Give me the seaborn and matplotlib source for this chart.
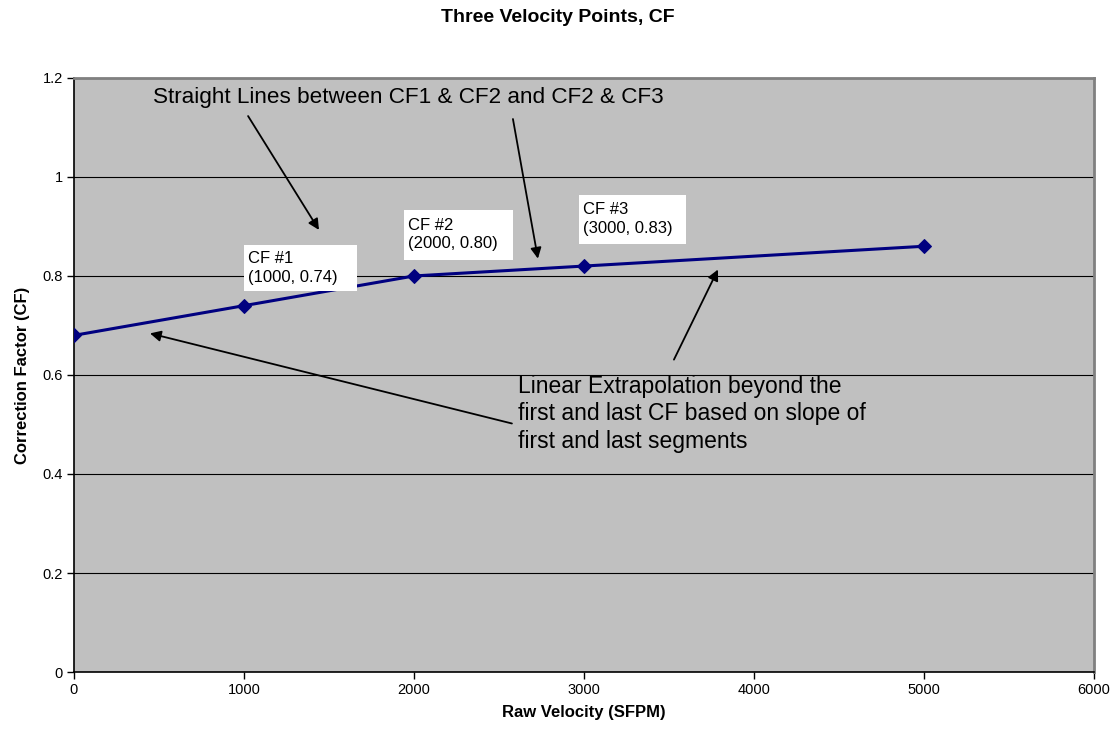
import pandas as pd
import seaborn as sns
import matplotlib.pyplot as plt
from matplotlib.patches import Rectangle

# data
velocity = [0, 1000, 2000, 3000, 5000]
corr_factor = [0.68, 0.74, 0.80, 0.82, 0.86]
x_ticks = [0, 1000, 2000, 3000, 4000, 5000, 6000]
y_ticks = [0, 0.2, 0.4, 0.6, 0.8, 1.0, 1.2]
y_tick_labels = ['0', '0.2', '0.4', '0.6', '0.8', '1', '1.2']
cf_labels = ['CF #1\n(1000, 0.74)', 'CF #2\n(2000, 0.80)', 'CF #3\n(3000, 0.83)']

df = pd.DataFrame({'Raw Velocity (SFPM)': velocity, 'Correction Factor (CF)': corr_factor})

sns.set_theme(style='ticks')
plt.rcParams['font.family'] = ['Liberation Sans', 'DejaVu Sans']
plt.rcParams['text.color'] = 'black'
plt.rcParams['axes.labelcolor'] = 'black'
plt.rcParams['xtick.color'] = 'black'
plt.rcParams['ytick.color'] = 'black'

fig = plt.figure(figsize=(11.16, 7.38), dpi=100)
ax = fig.add_axes([0.0663, 0.0894, 0.914, 0.805])
ax.set_facecolor('#C0C0C0')

sns.lineplot(data=df, x='Raw Velocity (SFPM)', y='Correction Factor (CF)', ax=ax,
             color='#000080', linewidth=2.2, marker='D', markersize=7,
             markeredgecolor='#000080', zorder=5)

ax.set_xlim(0, 6000)
ax.set_ylim(0, 1.2)
ax.set_xticks(x_ticks)
ax.set_yticks(y_ticks)
ax.set_yticklabels(y_tick_labels)
ax.tick_params(axis='both', direction='out', length=5, width=1,
               labelsize=10.5, pad=3)
ax.tick_params(axis='x', pad=3)

ax.yaxis.grid(True, color='black', linewidth=0.8)
ax.xaxis.grid(False)
ax.set_axisbelow(True)

for side in ['left', 'bottom']:
    ax.spines[side].set_color('black')
    ax.spines[side].set_linewidth(1.2)
for side in ['top', 'right']:
    ax.spines[side].set_visible(True)
    ax.spines[side].set_color('#808080')
    ax.spines[side].set_linewidth(2)

ax.set_xlabel('Raw Velocity (SFPM)', fontsize=12, fontweight='bold', labelpad=6)
ax.set_ylabel('Correction Factor (CF)', fontsize=12, fontweight='bold', labelpad=9)
fig.text(0.5, 1 - 18 / 738, 'Three Velocity Points, CF', ha='center', va='center',
         fontsize=14, fontweight='bold')

# point labels in white boxes (box x0, x1, y0, y1 in data units)
label_boxes = [(1000, 1665, 0.770, 0.863), (1941, 2582, 0.833, 0.934), (2971, 3600, 0.865, 0.964)]
for (x0, x1, y0, y1), txt in zip(label_boxes, cf_labels):
    ax.add_patch(Rectangle((x0, y0), x1 - x0, y1 - y0, facecolor='white',
                           edgecolor='none', zorder=6))
    ax.text(x0 + 25, (y0 + y1) / 2, txt, ha='left', va='center', fontsize=12,
            linespacing=1.3, zorder=7)

# callout texts
ax.text(465, 1.160, 'Straight Lines between CF1 & CF2 and CF2 & CF3',
        ha='left', va='center', fontsize=16.2)
ax.text(2612, 0.522, 'Linear Extrapolation beyond the\nfirst and last CF based on slope of\nfirst and last segments',
        ha='left', va='center', fontsize=16.5, linespacing=1.25)

arrows = [
    ((1024, 1.123), (1441, 0.893)),
    ((2582, 1.117), (2729, 0.835)),
    ((3529, 0.631), (3788, 0.813)),
    ((2576, 0.502), (447, 0.684)),
]
for tail, head in arrows:
    ax.annotate('', xy=head, xytext=tail,
                arrowprops=dict(arrowstyle='-|>', color='black', lw=1.3,
                                mutation_scale=16, shrinkA=0, shrinkB=0))

fig.savefig('out.png', dpi=100)
